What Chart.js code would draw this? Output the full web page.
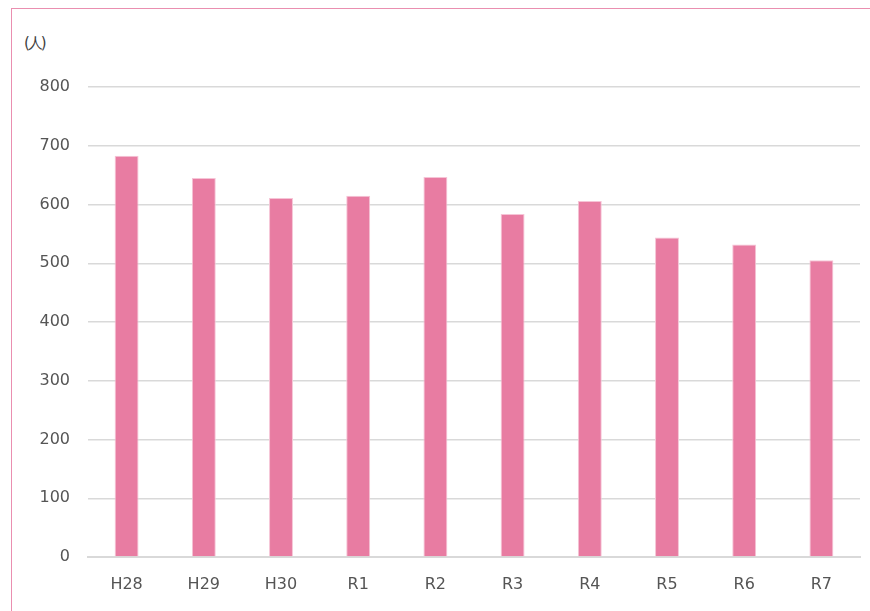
<!DOCTYPE html>
<html>
<head>
<meta charset="utf-8">
<script src="https://cdn.jsdelivr.net/npm/chart.js@4"></script>
<style>
  html, body { margin: 0; padding: 0; background: #fff; overflow: hidden; }
  #frame {
    position: absolute; left: 11px; top: 8px; width: 900px; height: 650px;
    border: 1px solid #ea8fb0; box-sizing: border-box;
  }
  #unit {
    position: absolute; left: 24px; top: 34px; letter-spacing: -2px;
    font-family: "DejaVu Sans", sans-serif; font-size: 15px; color: #404040;
  }
  #wrap { position: absolute; left: 0; top: 0; width: 870px; height: 611px; }
</style>
</head>
<body>
<div id="frame"></div>
<div id="unit">(人)</div>
<div id="wrap"><canvas id="chart"></canvas></div>
<script>
const years = ["H28", "H29", "H30", "R1", "R2", "R3", "R4", "R5", "R6", "R7"];
const people = [683, 645, 611, 615, 647, 584, 606, 544, 532, 505];

const barColor = "#e87ca2";
const gridColor = "#d9d9d9";
const tickFont = { family: "DejaVu Sans", size: 16 };

new Chart(document.getElementById("chart"), {
  type: "bar",
  data: {
    labels: years,
    datasets: [{
      data: people,
      backgroundColor: barColor,
      borderColor: "#f6c4d6",
      borderWidth: 1,
      barPercentage: 0.31,
      categoryPercentage: 1
    }]
  },
  options: {
    responsive: true,
    maintainAspectRatio: false,
    animation: false,
    layout: { padding: { left: 0, top: 87, right: 10, bottom: 0 } },
    plugins: { legend: { display: false }, tooltip: { enabled: false } },
    scales: {
      x: {
        grid: { display: false },
        border: { color: gridColor, width: 2 },
        ticks: { color: "#555555", font: tickFont, padding: 10 },
        afterFit: s => { s.height = 54; }
      },
      y: {
        min: 0,
        max: 800,
        ticks: { stepSize: 100, color: "#555555", font: tickFont, padding: 18 },
        grid: { color: gridColor, lineWidth: 1.5, drawTicks: false },
        border: { display: false },
        afterFit: s => { s.width = 88; }
      }
    }
  }
});
</script>
</body>
</html>
